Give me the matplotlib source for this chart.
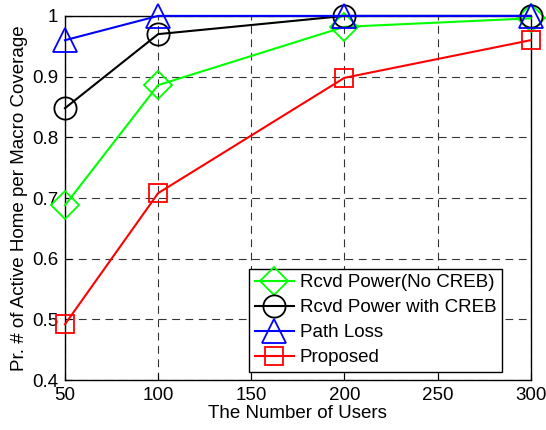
import matplotlib.pyplot as plt
from matplotlib.ticker import FuncFormatter

plt.rcParams['font.family'] = ['Liberation Sans', 'DejaVu Sans']

users = [50, 100, 200, 300]
rcvd_no_creb = [0.688, 0.886, 0.982, 0.996]
rcvd_creb = [0.848, 0.970, 1.0, 1.0]
path_loss = [0.960, 1.0, 1.0, 1.0]
proposed = [0.492, 0.708, 0.898, 0.960]

fig = plt.figure(figsize=(5.46, 4.30), dpi=100)
ax = fig.add_axes([0.119, 0.116, 0.853, 0.847])

ax.plot(users, rcvd_no_creb, '-D', color='#00ff00', mfc='none', ms=14, mew=1.3, lw=1.5,
        label='Rcvd Power(No CREB)', clip_on=False, zorder=3)
ax.plot(users, rcvd_creb, '-o', color='black', mfc='none', ms=16, mew=1.3, lw=1.5,
        label='Rcvd Power with CREB', clip_on=False, zorder=3)
ax.plot(users, path_loss, '-^', color='blue', mfc='none', ms=17, mew=1.3, lw=1.5,
        label='Path Loss', clip_on=False, zorder=3)
ax.plot(users, proposed, '-s', color='red', mfc='none', ms=13, mew=1.3, lw=1.5,
        label='Proposed', clip_on=False, zorder=3)

ax.set_xlim(50, 300)
ax.set_ylim(0.4, 1.0)
ax.set_xticks([50, 100, 150, 200, 250, 300])
ax.set_yticks([0.4, 0.5, 0.6, 0.7, 0.8, 0.9, 1.0])
ax.yaxis.set_major_formatter(FuncFormatter(lambda v, p: '1' if v == 1.0 else '%.1f' % v))
ax.grid(True, color='black', linestyle=(0, (7, 5)), lw=0.8, alpha=0.8)
ax.tick_params(direction='in', labelsize=13.5, length=5, pad=5)
for s in ax.spines.values():
    s.set_linewidth(1.0)

ax.set_xlabel('The Number of Users', fontsize=13.5, labelpad=1)
ax.set_ylabel('Pr. # of Active Home per Macro Coverage', fontsize=13.5, labelpad=3)

leg = ax.legend(loc='lower right', bbox_to_anchor=(0.938, 0.022), fontsize=13.5,
                fancybox=False, edgecolor='black', framealpha=1, borderpad=0.3,
                labelspacing=0.42, handlelength=2.1, handletextpad=0.3, borderaxespad=0)
leg.get_frame().set_linewidth(1.0)
leg.set_zorder(5)

fig.savefig('out.png', dpi=100)
